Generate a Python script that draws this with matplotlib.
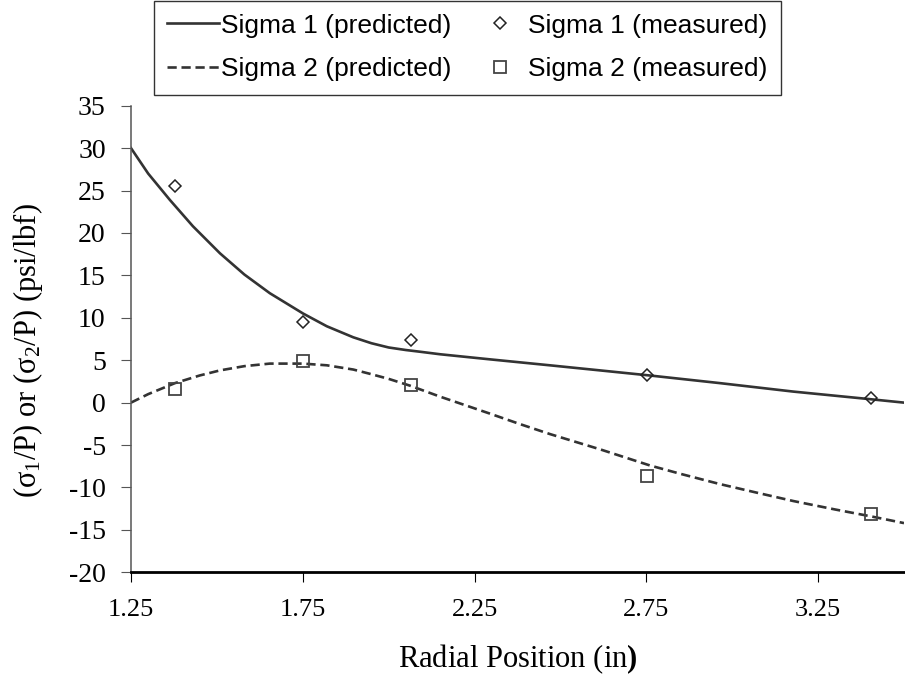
import numpy as np
import matplotlib
matplotlib.use("Agg")
import matplotlib.pyplot as plt

plt.rcParams['font.family'] = ['Liberation Serif', 'DejaVu Serif']
plt.rcParams['mathtext.fontset'] = 'custom'
plt.rcParams['mathtext.rm'] = 'Liberation Serif'
plt.rcParams['mathtext.it'] = 'Liberation Serif:italic'
plt.rcParams['mathtext.bf'] = 'Liberation Serif:bold'
plt.rcParams['axes.unicode_minus'] = False

# predicted curves
x_s1_pred = [1.25, 1.30, 1.363, 1.43, 1.509, 1.58, 1.654, 1.751, 1.82, 1.897,
             1.95, 2.0, 2.05, 2.091, 2.15, 2.295, 2.469, 2.615, 2.76, 2.964,
             3.178, 3.403, 3.5]
s1_pred = [30.0, 27.0, 23.9, 20.8, 17.6, 15.1, 12.9, 10.5, 9.0, 7.7,
           7.0, 6.5, 6.2, 6.0, 5.7, 5.1, 4.4, 3.8, 3.2, 2.3,
           1.3, 0.4, 0.0]

x_s2_pred = [1.25, 1.30, 1.378, 1.45, 1.509, 1.58, 1.654, 1.75, 1.82, 1.897,
             1.945, 2.0, 2.062, 2.15, 2.295, 2.38, 2.469, 2.615, 2.76, 2.85,
             2.964, 3.07, 3.178, 3.3, 3.403, 3.5]
s2_pred = [0.0, 1.0, 2.3, 3.2, 3.8, 4.3, 4.6, 4.6, 4.4, 3.9,
           3.4, 2.8, 2.0, 0.7, -1.3, -2.5, -3.7, -5.5, -7.4, -8.4,
           -9.6, -10.6, -11.6, -12.6, -13.4, -14.2]

# measured points
x_meas = [1.378, 1.752, 2.064, 2.753, 3.403]
s1_meas = [25.5, 9.5, 7.4, 3.25, 0.6]
s2_meas = [1.6, 4.9, 2.1, -8.7, -13.07]

x_ticks = [1.25, 1.75, 2.25, 2.75, 3.25]
y_ticks = list(range(-20, 40, 5))

W, H = 905, 691
fig = plt.figure(figsize=(W / 100, H / 100), dpi=100)
ax = fig.add_axes([131 / W, 1 - 572.3 / H, (904 - 131) / W, (572.3 - 105.7) / H])

line_c = '#333333'
l1, = ax.plot(x_s1_pred, s1_pred, color=line_c, lw=1.9)
l2, = ax.plot(x_s2_pred, s2_pred, color=line_c, lw=1.9, linestyle=(0, (3.5, 1.8)))
m1, = ax.plot(x_meas, s1_meas, linestyle='none', marker='D', ms=6.0,
              mfc='none', mec='#222222', mew=1.1)
m2, = ax.plot(x_meas, s2_meas, linestyle='none', marker='s', ms=8.2,
              mfc='none', mec='#444444', mew=1.3)

ax.set_xlim(1.25, 3.5)
ax.set_ylim(-20, 35)
ax.set_xticks(x_ticks)
ax.set_xticklabels(['%.2f' % v for v in x_ticks])
ax.set_yticks(y_ticks)
ax.set_yticklabels([str(v) for v in y_ticks])

for s in ['top', 'right']:
    ax.spines[s].set_visible(False)
ax.spines['left'].set_color('#555555')
ax.spines['left'].set_linewidth(1.1)
ax.spines['bottom'].set_color('black')
ax.spines['bottom'].set_linewidth(2.0)

ax.tick_params(axis='both', direction='out', length=7.2, width=0.8)
ax.tick_params(axis='y', color='#555555', labelsize=20, pad=11)
ax.tick_params(axis='x', color='black', labelsize=19, pad=12)

ax.set_ylabel('(σ$_1$/P) or (σ$_2$/P) (psi/lbf)', fontsize=22, va='center')
ax.yaxis.set_label_coords(-0.133, 0.476)
ax.set_xlabel(r'Radial Position (in$\mathbf{)}$', fontsize=22)
ax.xaxis.set_label_coords(0.5, -0.15)

leg = fig.legend([l1, l2, m1, m2],
                 ['Sigma 1 (predicted)', 'Sigma 2 (predicted)',
                  'Sigma 1 (measured)', 'Sigma 2 (measured)'],
                 ncol=2, loc='upper left', bbox_to_anchor=(154 / W, 1 - 0.5 / H),
                 frameon=True, fancybox=False, edgecolor='black',
                 prop={'family': 'Liberation Sans', 'size': 19},
                 handlelength=1.95, handletextpad=0.1, columnspacing=0.85,
                 borderpad=0.5, labelspacing=0.75, borderaxespad=0)
leg.get_frame().set_linewidth(1.0)

fig.savefig('out.png', dpi=100)
